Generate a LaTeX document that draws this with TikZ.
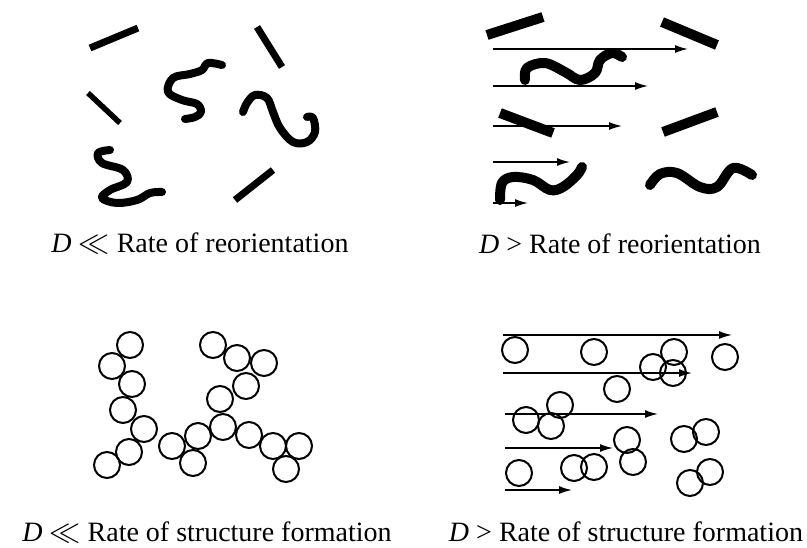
\documentclass[tikz,border=0pt]{standalone}
\usepackage{fontspec}
\setmainfont{Liberation Serif}
\usetikzlibrary{arrows.meta}

\newcommand{\muchless}{\scalebox{1.25}{$\ll$}}

\begin{document}
\begin{tikzpicture}[x=1pt, y=-1pt,
    rod/.style={line width=7pt},
    fatrod/.style={line width=10pt},
    worm/.style={line width=8pt, line cap=round, line join=round},
    fatworm/.style={line width=10pt, line cap=round, line join=round},
    flow/.style={line width=1.5pt, -{Latex[length=13pt,width=8pt]}},
    bead/.style={line width=2pt},
    caption/.style={font=\fontsize{28}{34}\selectfont, anchor=base, inner sep=0pt}]
\useasboundingbox (0,0) rectangle (807,547);

% quiet fluid: rods and coils point every way
\draw[rod] (90,48) -- (138,28);
\draw[rod] (257,27) -- (282,67);
\draw[rod, line width=5.5pt] (88,93) -- (120,123);
\draw[rod] (235,200) -- (273,170);
\draw[worm] plot[smooth, tension=0.6] coordinates {(222,65) (208,63) (202,70) (190,74) (173,78) (168,92) (182,100) (197,104) (201,112) (195,117) (185,119)};
\draw[worm] plot[smooth, tension=0.6] coordinates {(243,112) (247,103) (255,95) (267,98) (273,112) (280,128) (293,142) (307,142) (315,132) (313,118) (307,117)};
\draw[worm] plot[smooth, tension=0.6] coordinates {(110,150) (98,153) (102,163) (123,170) (127,182) (110,190) (102,198) (117,203) (137,200) (150,193) (162,192)};
\node[caption] (slowrod) at (200,252) {\textit{D} \muchless{} Rate of reorientation};

% sheared fluid: flow lines of different speed
\coordinate (f1a) at (493,49);  \coordinate (f1b) at (688,49);
\coordinate (f2a) at (493,86);  \coordinate (f2b) at (648,86);
\coordinate (f3a) at (493,126); \coordinate (f3b) at (622,126);
\coordinate (f4a) at (493,162); \coordinate (f4b) at (570,162);
\coordinate (f5a) at (493,203); \coordinate (f5b) at (528,203);
\foreach \k in {1,...,5}
    \draw[flow] (f\k a) -- (f\k b);
\draw[fatrod] (487,35) -- (543,17);
\draw[fatrod] (662,22) -- (717,45);
\draw[fatrod] (500,113) -- (553,133);
\draw[fatrod] (663,132) -- (717,112);
\draw[fatworm] plot[smooth, tension=0.6] coordinates {(525,80) (527,68) (545,63) (565,72) (580,80) (595,73) (600,60) (612,53) (622,57)};
\draw[fatworm] plot[smooth, tension=0.6] coordinates {(500,200) (502,183) (513,177) (533,180) (550,190) (563,187) (577,175) (582,167)};
\draw[fatworm] plot[smooth, tension=0.6] coordinates {(650,185) (660,174) (677,173) (700,187) (717,187) (733,168) (752,175)};
\node[caption] (fastrod) at (620,253) {\textit{D} > Rate of reorientation};

% quiet fluid: particles link up into chains
\foreach \x/\y in {130/345, 112/366, 132/384, 123/410, 144/429, 129/452, 107/465,
                   213/345, 237/358, 264/363, 246/386, 220/399, 223/427, 198/436,
                   172/446, 193/463, 249/435, 273/446, 299/446, 286/469}
    \draw[bead] (\x,\y) circle (13);
\node[caption] (slowbead) at (207,541) {\textit{D} \muchless{} Rate of structure formation};

% sheared fluid: particles stay apart
\coordinate (g1a) at (503,335); \coordinate (g1b) at (732,335);
\coordinate (g2a) at (503,373); \coordinate (g2b) at (692,373);
\coordinate (g3a) at (505,414); \coordinate (g3b) at (658,414);
\coordinate (g4a) at (505,448); \coordinate (g4b) at (613,448);
\coordinate (g5a) at (505,490); \coordinate (g5b) at (572,490);
\foreach \k in {1,...,5}
    \draw[flow] (g\k a) -- (g\k b);
\foreach \x/\y in {515/350, 594/352, 674/352, 653/367, 673/373, 725/357, 617/389,
                   560/405, 526/420, 551/426, 627/440, 633/462, 684/439, 706/432,
                   519/473, 574/468, 594/467, 710/472, 690/483}
    \draw[bead] (\x,\y) circle (13);
\node[caption] (fastbead) at (626,541) {\textit{D} > Rate of structure formation};
\end{tikzpicture}
\end{document}
